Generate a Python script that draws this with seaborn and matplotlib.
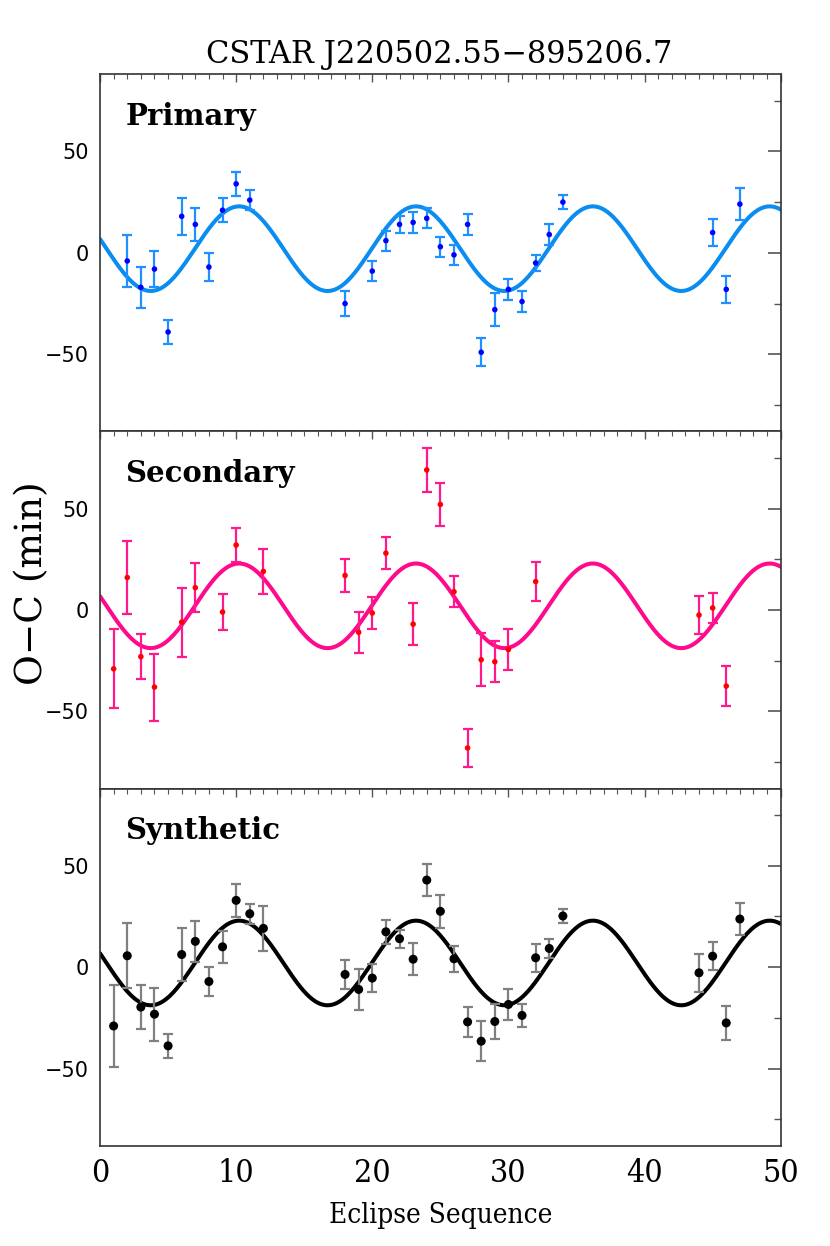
import numpy as np
import pandas as pd
import matplotlib
matplotlib.use('Agg')
import matplotlib.pyplot as plt
import matplotlib.font_manager as fm
from matplotlib.ticker import MultipleLocator
import seaborn as sns

# primary eclipses
prim_x = [2, 3, 4, 5, 6, 7, 8, 9, 10, 11, 18, 20, 21, 22, 23, 24, 25, 26, 27, 28,
          29, 30, 31, 32, 33, 34, 45, 46, 47]
prim_y = [-4, -17, -8, -39, 18, 14, -7, 21, 34, 26, -25, -9, 6, 14, 15, 17, 3, -1, 14, -49,
          -28, -18, -24, -5, 9, 25, 10, -18, 24]
prim_err = [13, 10, 9, 6, 9, 8, 7, 6, 6, 5, 6, 5, 5, 4, 5, 5, 5, 5, 5, 7,
            8, 5, 5, 4, 5, 3.5, 6.5, 6.5, 8]

# secondary eclipses
sec_x = [1, 2, 3, 4, 6, 7, 9, 10, 12, 18, 19, 20, 21, 23, 24, 25, 26, 27, 28, 29,
         30, 32, 44, 45, 46]
sec_y = [-29, 16, -23, -38, -6, 11, -1, 32, 19, 17, -11, -1.5, 28, -7, 69, 52, 9, -68, -24.5, -25.5,
         -19.5, 14, -2.5, 1, -37.5]
sec_err = [19.5, 18, 11, 16.5, 17, 12, 9, 8.5, 11, 8, 10, 8, 8, 10.5, 11, 10.5, 7.5, 9.5, 13, 10,
           10, 9.5, 9.5, 7.5, 10]

# synthetic
syn_x = [1, 2, 3, 4, 5, 6, 7, 8, 9, 10, 11, 12, 18, 19, 20, 21, 22, 23, 24, 25,
         26, 27, 28, 29, 30, 31, 32, 33, 34, 44, 45, 46, 47]
syn_y = [-29, 5.6, -19.7, -23.2, -38.8, 6.2, 12.7, -7.1, 10, 32.9, 26.3, 19.1, -3.6, -11, -5.4, 17.4, 14, 3.9, 42.9, 27.5,
         4.1, -27, -36.5, -26.8, -18.4, -23.8, 4.6, 9.2, 25.2, -2.8, 5.4, -27.5, 23.7]
syn_err = [20, 16, 11, 13, 6, 13, 10, 7, 8, 8, 5, 11, 7, 10, 7, 6, 4.5, 8, 8, 8,
           6.5, 7.5, 10, 8.5, 7.5, 5.5, 7, 4.5, 3.5, 9.5, 7, 8.5, 8]

# sinusoidal fit
fit_offset = 2.05
fit_amp = 20.85
fit_period = 12.99
fit_tmax = 10.22

panel_names = ['Primary', 'Secondary', 'Synthetic']
title = 'CSTAR J220502.55\u2212895206.7'

sns.set_theme(style='white')
plt.rcParams['font.family'] = ['DejaVu Sans']
plt.rcParams['axes.unicode_minus'] = True
plt.rcParams['text.color'] = 'black'
plt.rcParams['axes.labelcolor'] = 'black'


def condensed_serif():
    try:
        fp = fm.FontProperties(family='DejaVu Serif', stretch='condensed')
        f = fm.findfont(fp, fallback_to_default=False)
        if 'Condensed' in f:
            return fm.FontProperties(fname=f)
    except Exception:
        pass
    for name in ['Liberation Sans Narrow', 'DejaVu Serif']:
        try:
            f = fm.findfont(fm.FontProperties(family=name), fallback_to_default=False)
            return fm.FontProperties(fname=f)
        except Exception:
            pass
    return fm.FontProperties(family='DejaVu Serif')


cond = condensed_serif()

fit_x = np.linspace(0, 50, 600)
fit_y = fit_offset + fit_amp * np.cos(2 * np.pi * (fit_x - fit_tmax) / fit_period)
fit_df = pd.DataFrame({'x': fit_x, 'y': fit_y})

panels = [
    (prim_x, prim_y, prim_err, '#0A8CF0', '#1E90FF', '#0000FF', 4),
    (sec_x, sec_y, sec_err, '#FF0A8C', '#FF1A8C', '#FF0000', 4),
    (syn_x, syn_y, syn_err, '#000000', '#808080', '#000000', 6.5),
]

fig = plt.figure(figsize=(8.3, 12.46), dpi=100)
gs = fig.add_gridspec(3, 1, left=0.1205, right=0.9406, top=0.9404, bottom=0.0805, hspace=0)
axes = [fig.add_subplot(gs[i]) for i in range(3)]

for ax, (px, py, pe, lc, ec, mc, ms), name in zip(axes, panels, panel_names):
    sns.lineplot(data=fit_df, x='x', y='y', ax=ax, color=lc, lw=2.9, zorder=2)
    ax.errorbar(px, py, yerr=pe, fmt='none', ecolor=ec, elinewidth=1.6,
                capsize=3.5, capthick=1.6, zorder=3)
    sns.scatterplot(x=px, y=py, ax=ax, color=mc, s=ms ** 2, edgecolor='none', zorder=4)
    ax.set_xlim(0, 50)
    ax.set_ylim(-88, 88)
    ax.set_xlabel('')
    ax.set_ylabel('')
    ax.xaxis.set_major_locator(MultipleLocator(10))
    ax.xaxis.set_minor_locator(MultipleLocator(1))
    ax.yaxis.set_major_locator(MultipleLocator(50))
    ax.yaxis.set_minor_locator(MultipleLocator(25))
    ax.tick_params(axis='both', which='both', direction='in', top=True, right=True,
                   colors='#555555', labelcolor='black')
    ax.tick_params(axis='y', which='major', length=9.5, width=1.2, labelsize=15, pad=8)
    ax.tick_params(axis='y', which='minor', length=5, width=1.0)
    ax.tick_params(axis='x', which='major', length=6, width=1.0)
    ax.tick_params(axis='x', which='minor', length=3.5, width=0.8)
    for sp in ax.spines.values():
        sp.set_color('#333333')
        sp.set_linewidth(1.2)
    ax.text(0.037, 0.858, name, transform=ax.transAxes, fontsize=21, color='black',
            fontweight='bold', family='DejaVu Serif', va='baseline', ha='left')
    if ax is not axes[-1]:
        ax.tick_params(axis='x', labelbottom=False)

axes[-1].tick_params(axis='x', which='major', pad=9)
for lab in axes[-1].get_xticklabels():
    lab.set_fontproperties(cond)
    lab.set_fontsize(23)
axes[-1].set_xlabel('Eclipse Sequence', fontproperties=cond, fontsize=20, labelpad=9)

fig.text(439 / 830, 1 - 63 / 1246, title, ha='center', va='baseline',
         fontsize=22, family='DejaVu Serif', color='black')
fig.text(32 / 830, 1 - 583 / 1246, 'O\u2212C (min)', ha='center', va='center',
         rotation=90, fontsize=27, family='DejaVu Serif', color='black')

fig.savefig('out.png', dpi=100)
